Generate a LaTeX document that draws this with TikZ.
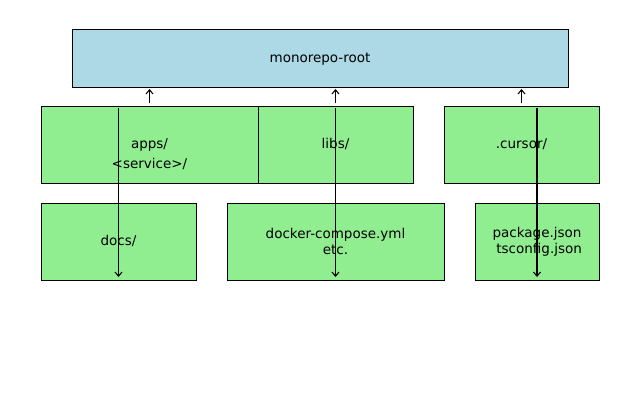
\documentclass[tikz,border=0pt]{standalone}
\usepackage{fontspec}
\setmainfont{DejaVu Sans}
\usetikzlibrary{calc,arrows.meta}

\definecolor{rootblue}{HTML}{ADD8E6}
\definecolor{dirgreen}{HTML}{90EE90}

\begin{document}
\begin{tikzpicture}[x=0.025cm,y=-0.025cm,
        every node/.style={box},
        box/.style={draw,rectangle,fill=dirgreen,line width=0.7pt,outer sep=0pt,
          inner sep=0pt,minimum height=77*0.025cm,align=center,
          font=\fontsize{9.6}{11.6}\selectfont},
        link/.style={-{Straight Barb[length=3pt,width=5pt]},line width=0.75pt}]
   \useasboundingbox (0,0) rectangle (640,405);

   \node (root) [fill=rootblue,minimum width=496*0.025cm,minimum height=58*0.025cm,
     text height=8pt,text depth=1pt] at (320,58) {monorepo-root};

   \node (apps) [minimum width=217*0.025cm] at (149.5,144.5)
     {\raisebox{-10pt}[0pt][0pt]{\begin{tabular}{@{}c@{}}apps/\\[2.6pt]<service>/\end{tabular}}};
   \node (libs) [minimum width=155*0.025cm] at (335.5,144.5) {libs/};
   \node (cursor) [minimum width=155*0.025cm] at (521.5,144.5) {.cursor/};

   \node (docs) [minimum width=155*0.025cm] at (118.5,241.5) {docs/};
   \node (compose) [minimum width=217*0.025cm] at (335.5,241.5) {docker-compose.yml\\etc.};
   \node (pkg) [minimum width=124*0.025cm] at (537,241.5) {package.json\\\hspace*{0.32em}tsconfig.json};

   \draw[link,shorten <=2pt,shorten >=1.4pt] (apps) -- (apps |- root.south);
   \draw[link,shorten <=2pt,shorten >=1.4pt] (libs) -- (libs |- root.south);
   \draw[link,shorten <=2pt,shorten >=1.4pt] (cursor) -- (cursor |- root.south);

   \draw[link,shorten <=1.4pt,shorten >=2.1pt] (docs |- apps.north) -- (docs.south);
   \draw[link,shorten <=1.4pt,shorten >=2.1pt] (compose |- libs.north) -- (compose.south);
   \draw[link,shorten <=1.4pt,shorten >=2.1pt] (pkg |- cursor.north) -- (pkg.south);

\end{tikzpicture}
\end{document}
